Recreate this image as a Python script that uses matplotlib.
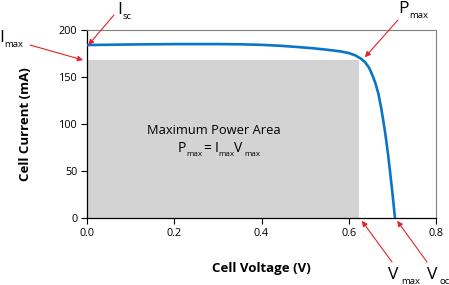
import matplotlib.pyplot as plt
from matplotlib.patches import Rectangle

# I-V curve
voltage = [0.0, 0.05, 0.10, 0.15, 0.20, 0.25, 0.30, 0.35, 0.40, 0.44, 0.48,
           0.52, 0.55, 0.58, 0.60, 0.615, 0.628, 0.638, 0.647, 0.656, 0.662,
           0.668, 0.674, 0.679, 0.684, 0.690, 0.695, 0.700, 0.706]
current = [184.0, 184.3, 184.6, 184.8, 185.0, 185.0, 185.0, 184.8, 184.2, 183.3, 182.0,
           180.5, 179.0, 177.3, 175.5, 173.0, 169.5, 165.5, 159.5, 150.0, 142.0,
           132.0, 118.0, 104.0, 89.0, 68.0, 48.0, 27.0, 0.0]

v_max = 0.624
i_max = 168
i_sc = 184
v_oc = 0.706

x_ticks = [0.0, 0.2, 0.4, 0.6, 0.8]
y_ticks = [0, 50, 100, 150, 200]

FONT = "Open Sans"
RED = "#e5222b"
BLUE = "#0a75c6"

plt.rcParams["font.family"] = [FONT, "DejaVu Sans"]

fig = plt.figure(figsize=(4.49, 2.85), dpi=100)
ax = fig.add_axes([87 / 449, 1 - 218 / 285, 349 / 449, 188 / 285])


def px(x, y):
    # picture pixel -> figure fraction
    return (x / 449, 1 - y / 285)


# shaded max power rectangle
ax.add_patch(Rectangle((0, 0), v_max, i_max, facecolor="#d3d3d3", edgecolor="none", zorder=1))
ax.plot(voltage, current, color=BLUE, lw=1.9, zorder=3, solid_capstyle="butt")

ax.set_xlim(0, 0.8)
ax.set_ylim(0, 200)
ax.set_xticks(x_ticks)
ax.set_xticklabels([f"{t:.1f}" for t in x_ticks])
ax.set_yticks(y_ticks)
ax.tick_params(direction="out", length=4, width=0.8, labelsize=7.8, pad=3, colors="black")
for s in ["top", "right"]:
    ax.spines[s].set_color("#808080")
    ax.spines[s].set_linewidth(0.8)
for s in ["left", "bottom"]:
    ax.spines[s].set_linewidth(0.9)

ax.set_xlabel("Cell Voltage (V)", fontsize=9.5, fontweight="bold", labelpad=17)
ax.set_ylabel("Cell Current (mA)", fontsize=9.5, fontweight="bold", labelpad=19)

ax.text(0.291, 93, "Maximum Power Area", ha="center", va="center", fontsize=9.3, zorder=4)

# formula in the box: Pmax = Imax Vmax  (offsets in pixels from the P)
fx, fy = 0.207, 70
parts = [("P", 0, 0, 10), ("max", 9, -4, 5.8), ("=", 26, 0, 10), ("I", 37, 0, 10),
         ("max", 41, -4, 5.8), ("V", 57, 0, 10), ("max", 67.5, -4, 5.8)]
for txt, dx, dy, size in parts:
    ax.annotate(txt, (fx, fy), xytext=(dx, dy), textcoords="offset pixels",
                fontsize=size, va="baseline", ha="left", zorder=4)


def big_label(xp, yp, main, sub, sub_dx):
    pos = px(xp, yp)
    fig.text(pos[0], pos[1], main, fontsize=12.5, ha="left", va="baseline")
    fig.text(pos[0] + sub_dx / 449, pos[1] - 5 / 285, sub, fontsize=6.8, ha="left", va="baseline")


big_label(117, 14, "I", "sc", 6)
big_label(-1, 42, "I", "max", 5)
big_label(398, 13, "P", "max", 11)
big_label(388, 279, "V", "max", 13)
big_label(427, 279, "V", "oc", 12)

arrow = dict(arrowstyle="-|>", color=RED, lw=0.8, mutation_scale=8, shrinkA=0, shrinkB=0)
arrows = [
    ((0.003, i_sc), (114, 15)),
    ((-0.009, i_max), (30, 45)),
    ((0.637, 171), (398, 20)),
    ((0.630, -3), (392, 262)),
    ((0.711, -3), (427, 262)),
]
for tip, start in arrows:
    ax.annotate("", xy=tip, xycoords="data", xytext=px(*start), textcoords="figure fraction",
                arrowprops=arrow, annotation_clip=False, zorder=6)

fig.savefig("out.png", dpi=100)
